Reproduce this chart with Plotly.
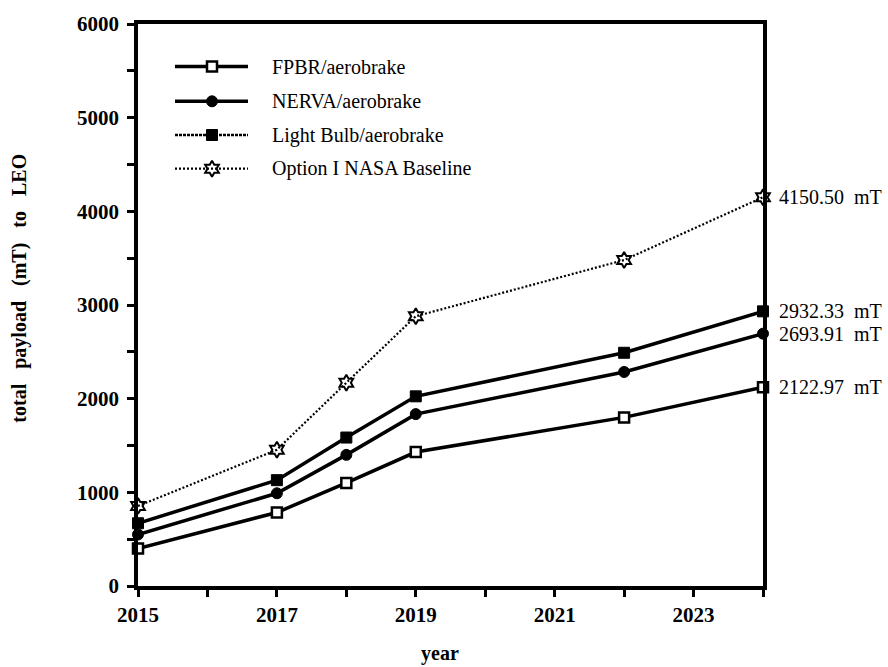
import plotly.graph_objects as go

# ---- data -------------------------------------------------------------
years = [2015, 2017, 2018, 2019, 2022, 2024]
fpbr = [400, 785, 1100, 1430, 1800, 2122.97]
nerva = [550, 990, 1400, 1835, 2285, 2693.91]
light_bulb = [670, 1130, 1585, 2025, 2490, 2932.33]
nasa_baseline = [855, 1455, 2170, 2880, 3480, 4150.50]

series_names = ["FPBR/aerobrake", "NERVA/aerobrake",
                "Light Bulb/aerobrake", "Option I NASA Baseline"]

x_ticks = [2015, 2017, 2019, 2021, 2023]
y_ticks = [0, 1000, 2000, 3000, 4000, 5000, 6000]

# ---- layout geometry (pixels) ----------------------------------------
W, H = 888, 667
L, R, T, B = 138, 763, 19, 586
FONT = "Liberation Serif"
GAP = "\u00a0" * 3


def px(xp):
    return (xp - L) / (R - L)


def py(yp):
    return (B - yp) / (B - T)


styles = [
    dict(line=dict(color="black", width=3.5),
         marker=dict(symbol="square", size=10, color="white",
                     line=dict(color="black", width=2.5))),
    dict(line=dict(color="black", width=3.5),
         marker=dict(symbol="circle", size=11, color="black",
                     line=dict(color="black", width=1))),
    dict(line=dict(color="black", width=3.5),
         marker=dict(symbol="square", size=11, color="black",
                     line=dict(color="black", width=1))),
    dict(line=dict(color="black", width=2.2, dash="2px,2px"),
         marker=dict(symbol="hexagram-open", size=12, color="black",
                     line=dict(color="black", width=2))),
]

fig = go.Figure()

all_series = [fpbr, nerva, light_bulb, nasa_baseline]
for name, vals, st in zip(series_names, all_series, styles):
    fig.add_trace(go.Scatter(
        x=years, y=vals, name=name, mode="lines+markers",
        line=st["line"], marker=st["marker"],
        cliponaxis=False, showlegend=False,
    ))

# end-of-line value labels
for vals in all_series:
    fig.add_annotation(
        x=years[-1], y=vals[-1], xref="x", yref="y",
        text=f"{vals[-1]:.2f}\u00a0\u00a0mT", showarrow=False,
        xanchor="left", yanchor="middle", xshift=14,
        font=dict(family=FONT, size=20, color="black"),
    )

# ---- hand-drawn key (pixel overlay axes) ------------------------------
legend_rows = [62, 97, 131, 165]
legend_lines = [
    dict(color="black", width=3.5),
    dict(color="black", width=3.5),
    dict(color="black", width=2.5, dash="3px,1px"),
    dict(color="black", width=2.2, dash="2px,2px"),
]
for name, row, st, ln in zip(series_names, legend_rows, styles, legend_lines):
    fig.add_trace(go.Scatter(
        x=[175, 248], y=[row, row], mode="lines", line=ln,
        xaxis="x2", yaxis="y2", showlegend=False, hoverinfo="skip",
    ))
    fig.add_trace(go.Scatter(
        x=[212], y=[row], mode="markers", marker=st["marker"],
        xaxis="x2", yaxis="y2", showlegend=False, hoverinfo="skip",
    ))
    fig.add_annotation(
        x=px(270), y=py(row), xref="paper", yref="paper",
        text=name, showarrow=False, xanchor="left", yanchor="middle",
        font=dict(family=FONT, size=20, color="black"),
    )

# axis titles
fig.add_annotation(
    x=px(20), y=py(286), xref="paper", yref="paper",
    text=GAP.join(["total", "payload", "(mT)", "to", "LEO"]),
    textangle=-90, showarrow=False, xanchor="center", yanchor="middle",
    font=dict(family=FONT, size=20, color="black", weight="bold"),
)
fig.add_annotation(
    x=px(440), y=py(654), xref="paper", yref="paper",
    text="year", showarrow=False, xanchor="center", yanchor="middle",
    font=dict(family=FONT, size=20, color="black", weight="bold"),
)

axis_common = dict(
    showgrid=False, zeroline=False, showline=True, linecolor="black",
    linewidth=3.5, mirror=True, ticks="outside", ticklen=7, tickwidth=3,
    tickcolor="black",
    tickfont=dict(family=FONT, size=21, color="black", weight="bold"),
)

fig.update_layout(
    width=W, height=H,
    margin=dict(l=L, r=W - R, t=T, b=H - B, pad=0),
    paper_bgcolor="white", plot_bgcolor="white",
    showlegend=False,
    xaxis=dict(range=[2015, 2024], tickvals=x_ticks,
               minor=dict(dtick=1, tick0=2015, ticks="outside",
                          ticklen=7, tickwidth=3, tickcolor="black"),
               **axis_common),
    yaxis=dict(range=[0, 6000], tickvals=y_ticks, ticklabelstandoff=4,
               minor=dict(dtick=500, tick0=0, ticks="outside",
                          ticklen=7, tickwidth=3, tickcolor="black"),
               **axis_common),
    xaxis2=dict(overlaying="x", range=[L, R], visible=False),
    yaxis2=dict(overlaying="y", range=[B, T], visible=False),
)

fig.write_html("out.html")
